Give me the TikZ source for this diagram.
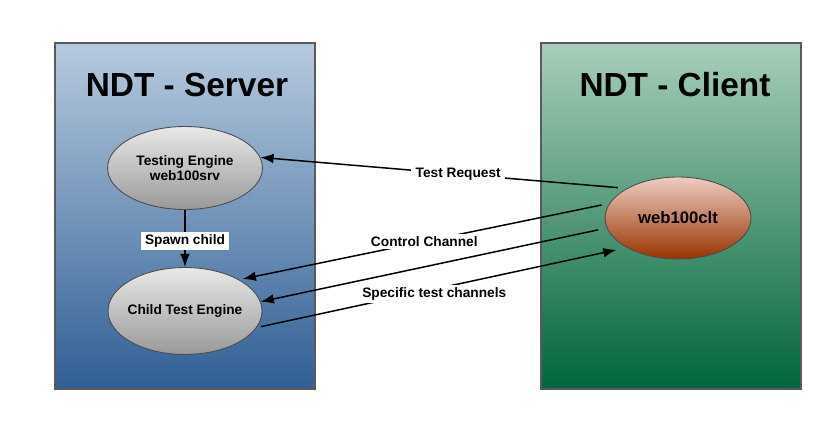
\documentclass[tikz,border=0pt]{standalone}
\usepackage{fontspec}
\setmainfont{Liberation Sans}
\usetikzlibrary{arrows.meta,shapes.geometric}
\definecolor{srvtop}{HTML}{B6CADE}
\definecolor{srvbot}{HTML}{305F95}
\definecolor{clttop}{HTML}{A8CEBA}
\definecolor{cltbot}{HTML}{00653A}
\definecolor{panelgray}{HTML}{5A5A5A}
\definecolor{rusttop}{HTML}{EECDC2}
\definecolor{rustmid}{HTML}{A4400E}
\definecolor{rustbot}{HTML}{993300}
\tikzset{
    panel/.style={draw=panelgray, line width=0.6pt},
    paneltitle/.style={font=\fontsize{19}{22}\selectfont\bfseries},
    engine/.style={ellipse, draw=black!70, line width=0.5pt, inner xsep=-3pt, inner ysep=0pt,
        top color=black!9, bottom color=black!40, align=center,
        font=\fontsize{7.8}{8.6}\selectfont\bfseries},
    clientengine/.style={ellipse, draw=black!70, line width=0.5pt, inner sep=0pt,
        top color=rusttop, middle color=rustmid, bottom color=rustbot,
        font=\fontsize{9.5}{11}\selectfont\bfseries},
    channel/.style={draw=black, ->},
    chanlabel/.style={fill=white, inner xsep=2.5pt, inner ysep=1.5pt,
        font=\fontsize{7.8}{9}\selectfont\bfseries},
}
\tikzset{>={Latex[length=7.5pt,width=5.5pt]}}

\begin{document}
\begin{tikzpicture}[x=0.02cm, y=-0.02cm, line width=0.85pt]
\useasboundingbox (0,0) rectangle (839,429);

% server side
\path[panel, top color=srvtop, bottom color=srvbot] (55,43) rectangle (315,389);
\node[paneltitle] (srvtitle) at (187,85) {NDT - Server};
\node[engine, minimum width=3.1cm, minimum height=1.66cm] (srv) at (185,168)
    {Testing Engine\\web100srv};
\node[engine, minimum width=3.08cm, minimum height=1.74cm] (child) at (185,311)
    {Child Test Engine};

% client side
\path[panel, top color=clttop, bottom color=cltbot] (541,43) rectangle (801,389);
\node[paneltitle] (clttitle) at (675,85) {NDT - Client};
\node[clientengine, minimum width=2.92cm, minimum height=1.64cm] (clt) at (678,218)
    {web100clt};

% spawn
\draw[channel] (srv.south) -- node[chanlabel, pos=0.55] (spawn) {Spawn child} (child.north);

% channels between client and server
\draw[channel, shorten <=5pt] (clt.150) -- node[chanlabel, pos=0.46] (req) {Test Request} (srv.8);
\draw[channel, shorten <=4.5pt, shorten >=2pt] (clt.168) -- node[chanlabel, pos=0.5] (ctrl) {Control Channel} (child.30);
\draw[channel, shorten <=5pt] (clt.188) -- (child.7);
\draw[channel, shorten <=2.5pt, shorten >=6pt] (child.347) -- node[chanlabel, pos=0.48, yshift=-2.5pt] (spec) {Specific test channels} (clt.210);
\end{tikzpicture}
\end{document}
